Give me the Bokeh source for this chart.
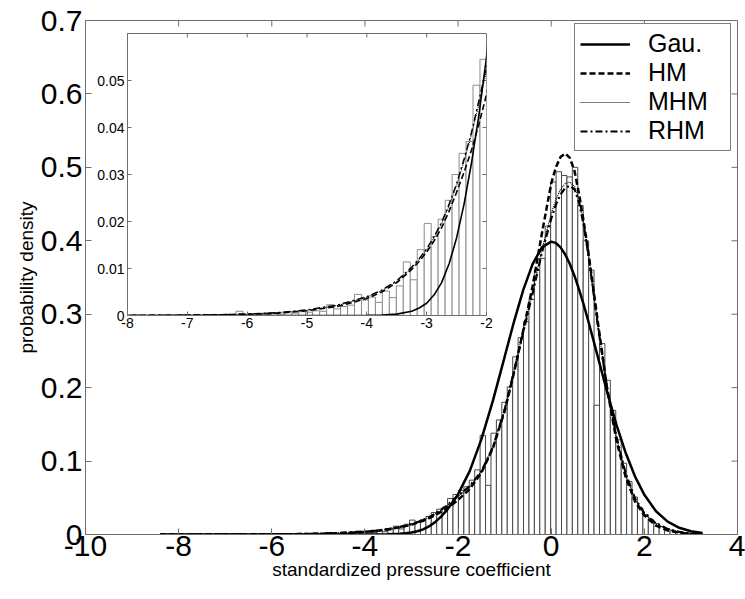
import numpy as np
from bokeh.plotting import figure
from bokeh.models import FixedTicker, Range1d
from bokeh.layouts import column
from bokeh.embed import file_html
from bokeh.resources import INLINE

# ---------------- data ----------------
bin_lo, bin_hi, n_bins = -8.4, 3.25, 100

hist_density = [
    0.0001, 0, 0, 0, 0, 0, 0, 0, 0, 0,
    0, 0, 0, 0, 0, 0.0001, 0, 0.0001, 0, 0.0009,
    0.0002, 0.0001, 0.0003, 0.0002, 0.0004, 0.0003, 0.0006, 0.0005, 0.0008, 0.0007,
    0.0010, 0.0009, 0.0023, 0.0014, 0.0019, 0.0022, 0.0045, 0.0033, 0.0039, 0.0028,
    0.0052, 0.0038, 0.0063, 0.0114, 0.0076, 0.0140, 0.0196, 0.0168, 0.0205, 0.0245,
    0.0300, 0.0345, 0.0370, 0.0490, 0.0545, 0.060, 0.065, 0.074, 0.088, 0.135,
    0.067, 0.138, 0.156, 0.180, 0.201, 0.242, 0.268, 0.290, 0.320, 0.360,
    0.376, 0.420, 0.480, 0.494, 0.489, 0.487, 0.500, 0.448, 0.400, 0.360,
    0.176, 0.260, 0.210, 0.169, 0.129, 0.097, 0.072, 0.051, 0.036, 0.027,
    0.020, 0.015, 0.011, 0.008, 0.005, 0.0035, 0.002, 0.001, 0.0005, 0.0002,
]

xc = [-8.4, -8.0, -7.5, -7.0, -6.5, -6.0, -5.5, -5.0, -4.5, -4.0,
      -3.75, -3.5, -3.25, -3.125, -3.0, -2.875, -2.75, -2.625, -2.5, -2.375,
      -2.25, -2.125, -2.0, -1.75, -1.5, -1.25, -1.0,
      -0.8, -0.6, -0.4, -0.2,
      0.0, 0.1, 0.2, 0.3, 0.4, 0.5, 0.6, 0.7, 0.8, 0.9,
      1.0, 1.2, 1.4, 1.6, 1.8, 2.0,
      2.25, 2.5, 2.75, 3.0, 3.25]

gau = [0, 0, 0, 0, 0, 0, 0, 0, 0.00001, 0.00003,
       0.0001, 0.0003, 0.0009, 0.0016, 0.0026, 0.0044, 0.0070, 0.0110, 0.0165, 0.0237,
       0.0325, 0.0428, 0.0550, 0.0863, 0.1295, 0.1826, 0.2420,
       0.2897, 0.3332, 0.3683, 0.3910,
       0.3989, 0.3970, 0.3910, 0.3814, 0.3683, 0.3521, 0.3332, 0.3123, 0.2897, 0.2661,
       0.2420, 0.1942, 0.1497, 0.1109, 0.0790, 0.0540,
       0.0317, 0.0175, 0.0091, 0.0044, 0.0020]

hm = [0.00001, 0.00002, 0.00004, 0.00008, 0.00015, 0.00027, 0.0005, 0.0010, 0.0019, 0.0036,
      0.0050, 0.0070, 0.0098, 0.0115, 0.0135, 0.0159, 0.0187, 0.0222, 0.0262, 0.0305,
      0.0352, 0.0408, 0.0470, 0.0620, 0.0840, 0.1180, 0.1680,
      0.2200, 0.2780, 0.3380, 0.4100,
      0.4780, 0.5000, 0.5140, 0.5190, 0.5130, 0.4950, 0.4630, 0.4250, 0.3830, 0.3370,
      0.2900, 0.1990, 0.1280, 0.0780, 0.0450, 0.0260,
      0.0120, 0.0055, 0.0023, 0.0009, 0.0003]

mhm = [0.00001, 0.00002, 0.00004, 0.00008, 0.00015, 0.0003, 0.0006, 0.0011, 0.0021, 0.0039,
       0.0053, 0.0072, 0.0101, 0.0119, 0.0140, 0.0166, 0.0195, 0.0233, 0.0276, 0.0328,
       0.0385, 0.0450, 0.0520, 0.0650, 0.0855, 0.1185, 0.1695,
       0.2230, 0.2780, 0.3310, 0.3880,
       0.4370, 0.4560, 0.4700, 0.4780, 0.4800, 0.4740, 0.4560, 0.4220, 0.3810, 0.3340,
       0.2860, 0.2000, 0.1320, 0.0820, 0.0480, 0.0285,
       0.0145, 0.0072, 0.0033, 0.0014, 0.0005]

rhm = [0.00001, 0.00002, 0.00004, 0.00008, 0.00015, 0.0003, 0.0006, 0.0012, 0.0022, 0.0040,
       0.0054, 0.0074, 0.0103, 0.0121, 0.0142, 0.0168, 0.0198, 0.0237, 0.0280, 0.0333,
       0.0390, 0.0458, 0.0530, 0.0660, 0.0860, 0.1190, 0.1700,
       0.2220, 0.2760, 0.3280, 0.3840,
       0.4300, 0.4490, 0.4630, 0.4720, 0.4750, 0.4700, 0.4520, 0.4200, 0.3800, 0.3330,
       0.2850, 0.2000, 0.1330, 0.0830, 0.0490, 0.0290,
       0.0150, 0.0075, 0.0035, 0.0015, 0.0005]

series_names = ["Gau.", "HM", "MHM", "RHM"]

main_xticks = [-10, -8, -6, -4, -2, 0, 2, 4]
main_xtick_labels = ["-10", "-8", "-6", "-4", "-2", "0", "2", "4"]
main_yticks = [0, 0.1, 0.2, 0.3, 0.4, 0.5, 0.6, 0.7]
main_ytick_labels = ["0", "0.1", "0.2", "0.3", "0.4", "0.5", "0.6", "0.7"]
inset_xticks = [-8, -7, -6, -5, -4, -3, -2]
inset_xtick_labels = ["-8", "-7", "-6", "-5", "-4", "-3", "-2"]
inset_yticks = [0, 0.01, 0.02, 0.03, 0.04, 0.05]
inset_ytick_labels = ["0", "0.01", "0.02", "0.03", "0.04", "0.05"]

# ---------------- styling ----------------
FONT = "Liberation Sans"
FRAME = "#6e6e6e"

edges = np.linspace(bin_lo, bin_hi, n_bins + 1)
left_e, right_e = edges[:-1], edges[1:]

styles = {
    "Gau.": dict(line_dash="solid"),
    "HM": dict(line_dash="6 3"),
    "MHM": dict(line_dash="1 1"),
    "RHM": dict(line_dash="7 3 2 3"),
}
curves = {"Gau.": gau, "HM": hm, "MHM": mhm, "RHM": rhm}
main_w = {"Gau.": 2.5, "HM": 2.5, "MHM": 1.2, "RHM": 2.2}
inset_w = {"Gau.": 1.6, "HM": 1.6, "MHM": 1.0, "RHM": 1.4}


def style_axes(fig, xt, xl, yt, yl, font_size, tick_len, xstand, ystand, xr, yr, fw, fh):
    fig.xgrid.visible = False
    fig.ygrid.visible = False
    fig.outline_line_color = FRAME
    fig.outline_line_width = 1
    for ax, t, l, st in ((fig.xaxis[0], xt, xl, xstand), (fig.yaxis[0], yt, yl, ystand)):
        ax.ticker = FixedTicker(ticks=t)
        ax.major_label_overrides = dict(zip(t, l))
        ax.major_label_text_font = FONT
        ax.major_label_text_font_size = font_size
        ax.major_label_text_color = "black"
        ax.major_tick_in = tick_len
        ax.major_tick_out = 0
        ax.minor_tick_in = 0
        ax.minor_tick_out = 0
        ax.major_tick_line_color = FRAME
        ax.axis_line_color = FRAME
        ax.major_label_standoff = st
    # mirrored ticks on the top and right edges of the box
    dy = tick_len * (yr[1] - yr[0]) / fh
    dx = tick_len * (xr[1] - xr[0]) / fw
    fig.segment(x0=xt, x1=xt, y0=[yr[1]] * len(xt), y1=[yr[1] - dy] * len(xt),
                line_color=FRAME, line_width=1)
    fig.segment(x0=[xr[1]] * len(yt), x1=[xr[1] - dx] * len(yt), y0=yt, y1=yt,
                line_color=FRAME, line_width=1)


# ---------------- main figure ----------------
MX, MY = (-10, 4), (0, 0.7)
ML, MR, MT, MB = 85, 8, 20, 65
W, H = 745, 599
p = figure(width=W, height=H, x_range=Range1d(*MX), y_range=Range1d(*MY),
           output_backend="svg", toolbar_location=None,
           min_border_left=ML, min_border_right=MR, min_border_top=MT, min_border_bottom=MB,
           x_axis_label="standardized pressure coefficient", y_axis_label="probability density")
p.background_fill_color = "white"
p.border_fill_color = "white"
for ax in (p.xaxis[0], p.yaxis[0]):
    ax.axis_label_text_font = FONT
    ax.axis_label_text_font_size = "19px"
    ax.axis_label_text_font_style = "normal"
    ax.axis_label_text_color = "black"
    ax.axis_label_standoff = 0
p.quad(left=left_e, right=right_e, top=hist_density, bottom=0,
       fill_color="white", line_color="#484848", line_width=1)
style_axes(p, main_xticks, main_xtick_labels, main_yticks, main_ytick_labels, "30px", 6, 1, 3,
           MX, MY, W - ML - MR, H - MT - MB)
p.yaxis[0].axis_label_standoff = 1
for name in series_names:
    p.line(xc, curves[name], line_color="black", line_width=main_w[name],
           legend_label=name, **styles[name])

lg = p.legend[0]
lg.location = (489, 383)
lg.label_text_font = FONT
lg.label_text_font_size = "25px"
lg.label_text_color = "black"
lg.label_height = 27
lg.glyph_height = 20
lg.glyph_width = 50
lg.label_standoff = 18
lg.label_width = 77
lg.spacing = 0
lg.padding = 5
lg.margin = 0
lg.border_line_color = "black"
lg.border_line_width = 1
lg.background_fill_color = "white"
lg.background_fill_alpha = 1.0

# ---------------- inset figure ----------------
IX, IY = (-8, -2), (0, 0.06)
IL, IR, IT, IB = ML, MR, 4, 22
FW, FH = 359, 282
inset = figure(width=IL + FW + IR, height=IT + FH + IB,
               x_range=Range1d(*IX), y_range=Range1d(*IY),
               output_backend="svg", toolbar_location=None,
               min_border_left=IL, min_border_right=IR, min_border_top=IT, min_border_bottom=IB,
               styles={"position": "absolute", "left": f"{127 - IL}px", "top": f"{33 - IT}px",
                       "z-index": "5"})
inset.background_fill_color = "white"
inset.border_fill_color = None
inset.quad(left=left_e, right=right_e, top=hist_density, bottom=0,
           fill_color="white", line_color="#8c8c8c", line_width=1)
style_axes(inset, inset_xticks, inset_xtick_labels, inset_yticks, inset_ytick_labels, "14px", 4, 2, 3,
           IX, IY, FW, FH)
for name in series_names:
    inset.line(xc, curves[name], line_color="black", line_width=inset_w[name], **styles[name])

layout = column(p, inset)
open("out.html", "w").write(file_html(layout, INLINE))
